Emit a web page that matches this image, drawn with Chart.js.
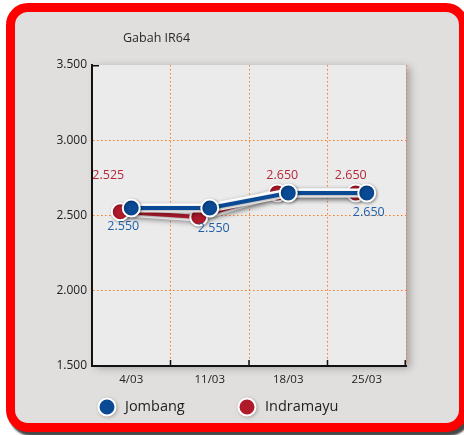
<!DOCTYPE html>
<html>
<head>
<meta charset="utf-8">
<script src="https://cdn.jsdelivr.net/npm/chart.js@4"></script>
<style>
  html, body { margin: 0; padding: 0; background: #fff; }
  #wrap { position: relative; width: 464px; height: 435px; overflow: hidden; }
  #frame {
    position: absolute; left: 6px; top: 3px; width: 462px; height: 429px;
    box-sizing: border-box; border: 9px solid #ff0000; border-radius: 22px;
    background: #e0dfdd; box-shadow: 3px 4px 2px rgba(40,40,40,0.85);
  }
  #hargaChart { position: absolute; left: 0; top: 0; }
</style>
</head>
<body>
<div id="wrap">
  <div id="frame"></div>
  <canvas id="hargaChart" width="464" height="435"></canvas>
</div>
<script>
// harga gabah per minggu (Rp/kg)
const dates = ["4/03", "11/03", "18/03", "25/03"];
const jombang = [2550, 2550, 2650, 2650];
const indramayu = [2525, 2490, 2650, 2650];
// titik yang diberi angka
const jombangShown = [true, true, false, true];
const indramayuShown = [true, false, true, true];
const yTicks = [1500, 2000, 2500, 3000, 3500];

const BLUE = "#0a4a94";
const RED = "#b01b2c";
const GRID = "#ff7a1f";
const FONT = '"Open Sans", sans-serif';

const fmt = n => String(n).replace(/\B(?=(\d{3})+(?!\d))/g, ".");

// geser titik Indramayu sedikit ke kiri, seperti grafik aslinya
const nudge = [0, -11];
const labelStyle = [
  { color: "#1f5fa8", dx: [-8, 4, 0, 2], dy: [18, 20, 17, 20] },
  { color: "#b5283a", dx: [-12, 0, 5, -5], dy: [-36, -16, -17, -17] }
];
const shown = [jombangShown, indramayuShown];

const decor = {
  id: "decor",
  beforeDraw(chart) {
    const { ctx, chartArea: a } = chart;
    ctx.save();
    ctx.shadowColor = "rgba(0,0,0,0.28)";
    ctx.shadowBlur = 8;
    ctx.shadowOffsetX = 4;
    ctx.shadowOffsetY = 2;
    ctx.fillStyle = "#ebebeb";
    ctx.fillRect(a.left, a.top, a.right - a.left, a.bottom - a.top);
    ctx.restore();

    ctx.save();
    ctx.fillStyle = "#2a2a2a";
    ctx.font = "12.5px " + FONT;
    ctx.textBaseline = "middle";
    ctx.fillText("Gabah IR64", a.left + 31, 38);
    ctx.restore();
  },
  beforeDatasetDraw(chart, args) {
    const ctx = chart.ctx;
    const pts = args.meta.data;
    ctx.save();
    ctx.translate(nudge[args.index], 0);
    // garis putih di bawah garis berwarna
    ctx.save();
    ctx.shadowColor = "rgba(0,0,0,0.35)";
    ctx.shadowBlur = 5;
    ctx.shadowOffsetY = 2;
    ctx.strokeStyle = "#fff";
    ctx.lineWidth = 9;
    ctx.lineJoin = "round";
    ctx.lineCap = "round";
    ctx.beginPath();
    pts.forEach((p, i) => i ? ctx.lineTo(p.x, p.y) : ctx.moveTo(p.x, p.y));
    ctx.stroke();
    ctx.restore();
    ctx.shadowColor = "rgba(0,0,0,0.35)";
    ctx.shadowBlur = 3;
    ctx.shadowOffsetX = 1;
    ctx.shadowOffsetY = 1;
  },
  afterDatasetDraw(chart) {
    chart.ctx.restore();
  },
  afterDatasetsDraw(chart) {
    const ctx = chart.ctx;
    ctx.save();
    ctx.font = "12.5px " + FONT;
    ctx.textAlign = "center";
    ctx.textBaseline = "middle";
    chart.data.datasets.forEach((ds, di) => {
      const meta = chart.getDatasetMeta(di);
      const st = labelStyle[di];
      ctx.fillStyle = st.color;
      meta.data.forEach((p, i) => {
        if (!shown[di][i]) return;
        ctx.fillText(fmt(ds.data[i]), p.x + nudge[di] + st.dx[i], p.y + st.dy[i]);
      });
    });
    ctx.restore();
  },
  afterDraw(chart) {
    const { ctx, chartArea: a, scales } = chart;
    const x = scales.x;
    ctx.save();
    ctx.strokeStyle = "#111";
    ctx.lineWidth = 1.5;
    ctx.beginPath();
    for (let i = 1; i <= dates.length; i++) {
      const px = i < dates.length
        ? (x.getPixelForValue(i - 1) + x.getPixelForValue(i)) / 2
        : a.right - 0.75;
      ctx.moveTo(px, a.bottom);
      ctx.lineTo(px, a.bottom - 6);
    }
    ctx.moveTo(a.left, a.top + 0.75);
    ctx.lineTo(a.left + 7, a.top + 0.75);
    ctx.stroke();
    ctx.restore();

    // legenda
    ctx.save();
    ctx.font = "14.5px " + FONT;
    ctx.textBaseline = "middle";
    const ly = 407;
    const lx = [107, 247];
    chart.data.datasets.forEach((ds, di) => {
      ctx.save();
      ctx.shadowColor = "rgba(0,0,0,0.45)";
      ctx.shadowBlur = 4;
      ctx.shadowOffsetX = 1;
      ctx.shadowOffsetY = 1;
      ctx.beginPath();
      ctx.arc(lx[di], ly, 8.5, 0, Math.PI * 2);
      ctx.fillStyle = ds.backgroundColor;
      ctx.fill();
      ctx.restore();
      ctx.lineWidth = 2;
      ctx.strokeStyle = "#fff";
      ctx.stroke();
      ctx.fillStyle = "#222";
      ctx.fillText(ds.label, lx[di] + 18, ly);
    });
    ctx.restore();
  }
};

new Chart(document.getElementById("hargaChart"), {
  type: "line",
  data: {
    labels: dates,
    datasets: [
      {
        label: "Jombang",
        data: jombang,
        borderColor: BLUE,
        backgroundColor: BLUE,
        borderWidth: 4,
        pointRadius: 8.5,
        pointBorderWidth: 2,
        pointBorderColor: "#fff",
        pointBackgroundColor: BLUE,
        tension: 0
      },
      {
        label: "Indramayu",
        data: indramayu,
        borderColor: RED,
        backgroundColor: RED,
        borderWidth: 4,
        pointRadius: 8.5,
        pointBorderWidth: 2,
        pointBorderColor: "#fff",
        pointBackgroundColor: RED,
        tension: 0
      }
    ]
  },
  options: {
    responsive: false,
    animation: false,
    devicePixelRatio: 1,
    layout: { padding: { top: 65, right: 58, bottom: 39, left: 0 } },
    plugins: {
      legend: { display: false },
      title: { display: false },
      tooltip: { enabled: false }
    },
    scales: {
      x: {
        offset: true,
        afterFit: s => { s.height = 30; },
        grid: {
          offset: true,
          drawTicks: false,
          lineWidth: 1,
          color: c => (c.index === 0 || c.index === dates.length) ? "rgba(0,0,0,0)" : GRID
        },
        border: { color: "#111", width: 2, dash: [1.5, 2.5] },
        ticks: { padding: 7, color: "#222", font: { family: FONT, size: 11.5 } }
      },
      y: {
        min: 1500,
        max: 3500,
        afterFit: s => { s.width = 92; },
        afterBuildTicks: s => { s.ticks = yTicks.map(v => ({ value: v })); },
        grid: {
          drawTicks: false,
          lineWidth: 1,
          color: c => (c.tick && (c.tick.value === 1500 || c.tick.value === 3500)) ? "rgba(0,0,0,0)" : GRID
        },
        border: { color: "#111", width: 2, dash: [1.5, 2.5] },
        ticks: {
          padding: 5,
          color: "#222",
          font: { family: FONT, size: 12 },
          callback: v => fmt(v)
        }
      }
    }
  },
  plugins: [decor]
});
</script>
</body>
</html>
